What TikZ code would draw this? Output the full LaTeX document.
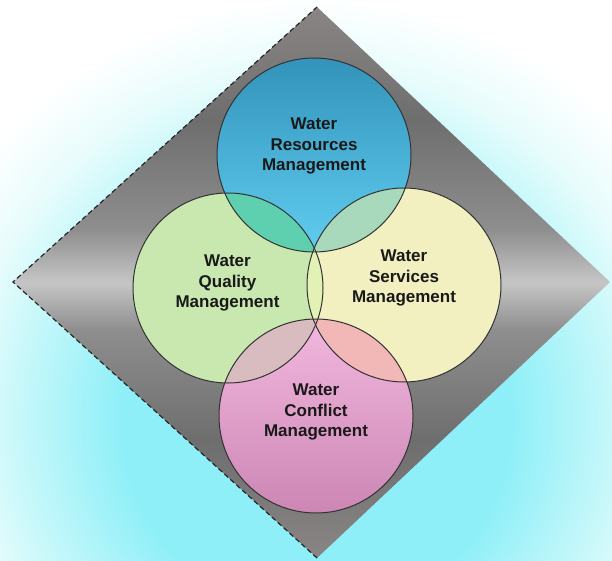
\documentclass[tikz,border=0pt]{standalone}
\usepackage{fontspec}
\setmainfont{Liberation Sans}
\usepackage{tikz}

\definecolor{glowcyan}{HTML}{8EEFF8}
\definecolor{glowmid}{HTML}{C8F8FA}
\definecolor{glowpale}{HTML}{E8FCFC}
\definecolor{slabend}{HTML}{8A8585}
\definecolor{slabdark}{HTML}{6E6E6E}
\definecolor{slabmid}{HTML}{8E8E8E}
\definecolor{slablight}{HTML}{C6C6C6}
\definecolor{resdark}{HTML}{3393BA}
\definecolor{reslight}{HTML}{60CDF0}
\definecolor{qualgreen}{HTML}{C8E8B0}
\definecolor{servyellow}{HTML}{F2EFC0}
\definecolor{conftop}{HTML}{F2B8DE}
\definecolor{confbottom}{HTML}{CC86B4}
\definecolor{resqual}{HTML}{5ED0B0}
\definecolor{resserv}{HTML}{A9D9BD}
\definecolor{qualserv}{HTML}{E2F2B4}
\definecolor{qualconf}{HTML}{D8BCC0}
\definecolor{servconf}{HTML}{F2B8B8}

\pgfdeclareradialshading{glow}{\pgfpoint{0bp}{0bp}}{color(0bp)=(glowcyan); color(11bp)=(glowcyan); color(17bp)=(glowmid); color(20bp)=(glowpale); color(24bp)=(white); color(50bp)=(white)}
\pgfdeclareverticalshading{slab}{100bp}{color(0bp)=(slabend); color(25bp)=(slabend); color(35.7bp)=(slabdark); color(45.7bp)=(slabmid); color(50bp)=(slablight); color(54.8bp)=(slabmid); color(64.7bp)=(slabdark); color(75bp)=(slabend); color(100bp)=(slabend)}

\begin{document}
\begin{tikzpicture}[x=1pt,y=1pt,
  rim/.style={draw=black!80, line width=1pt},
  areatext/.style={font=\bfseries\fontsize{17}{20.5}\selectfont, text=black!90, align=center, inner sep=0pt}]
\useasboundingbox (0,0) rectangle (612,560);

% background glow
\begin{scope}
\clip (0,0) rectangle (612,560);
\shade[shading=glow] (316,140) circle (440);
\end{scope}

% grey diamond
\coordinate (dtop) at (317,553);
\coordinate (dright) at (610,278);
\coordinate (dbottom) at (317,2);
\coordinate (dleft) at (13,278);
\shade[shading=slab] (dtop) -- (dright) -- (dbottom) -- (dleft) -- cycle;
\draw[black!85, line width=1.2pt, dash pattern=on 5pt off 3pt] (dbottom) -- (dleft) -- (dtop);

% the four circles
\coordinate (res) at (314,405);
\coordinate (qual) at (228,272);
\coordinate (serv) at (404,275);
\coordinate (conf) at (316,144);

\shade[top color=resdark, bottom color=reslight] (res) circle (97);
\fill[qualgreen] (qual) circle (95);
\fill[servyellow] (serv) circle (97);
\shade[top color=conftop, bottom color=confbottom] (conf) circle (97);

% overlaps
\begin{scope}
\clip (res) circle (97);
\fill[resqual] (qual) circle (95);
\fill[resserv] (serv) circle (97);
\end{scope}
\begin{scope}
\clip (qual) circle (95);
\fill[qualserv] (serv) circle (97);
\fill[qualconf] (conf) circle (97);
\end{scope}
\begin{scope}
\clip (serv) circle (97);
\fill[servconf] (conf) circle (97);
\end{scope}

\foreach \c/\rad in {res/97, qual/95, serv/97, conf/97}
\draw[rim] (\c) circle (\rad);

\node[areatext] (restext) at (314,414) {Water\\Resources\\Management};
\node[areatext] (qualtext) at (227.5,277) {Water\\Quality\\Management};
\node[areatext] (servtext) at (404,282) {Water\\Services\\Management};
\node[areatext] (conftext) at (316,148) {Water\\Conflict\\Management};

\end{tikzpicture}
\end{document}
